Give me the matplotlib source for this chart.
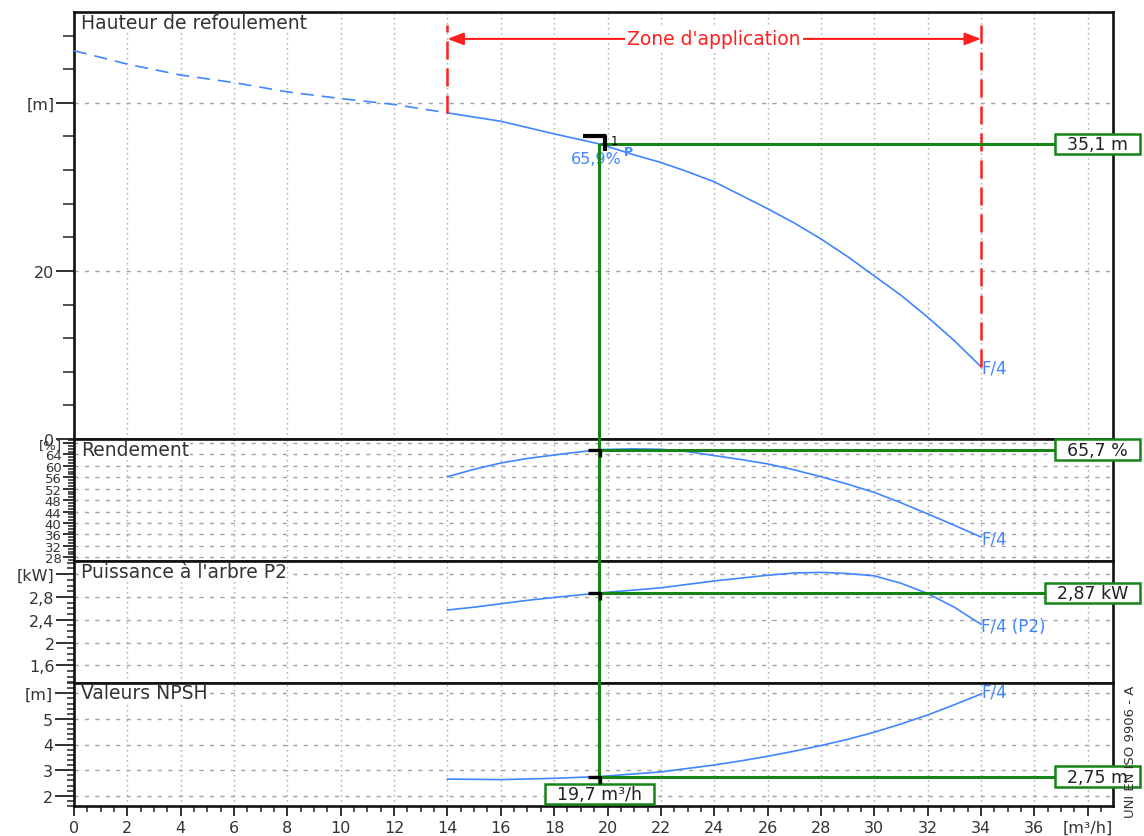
import matplotlib
matplotlib.use("Agg")
import matplotlib.pyplot as plt
from matplotlib.lines import Line2D
from matplotlib.markers import MarkerStyle
from matplotlib.patches import ConnectionPatch
from matplotlib.path import Path
from matplotlib.ticker import FixedLocator, FixedFormatter, MultipleLocator
from matplotlib.transforms import blended_transform_factory, offset_copy

plt.rcParams['font.family'] = ['DejaVu Sans']

# ---------------------------------------------------------------- data
# pump characteristic outside the application range (dashed)
q_extrap = [0, 2, 4, 6, 8, 10, 12, 14]
head_extrap = [46.2, 44.6, 43.3, 42.4, 41.3, 40.5, 39.8, 38.8]

# delivery head [m]
q_head = [14, 16, 18, 19.7, 21, 22, 23, 24, 25, 26, 27, 28, 29, 30, 31, 32, 33, 34]
head = [38.8, 37.8, 36.3, 35.1, 33.8, 32.9, 31.8, 30.6, 29.0, 27.4, 25.7, 23.8,
        21.7, 19.4, 17.1, 14.5, 11.7, 8.6]

# efficiency [%]
q_eff = [14, 15, 16, 17, 18, 19.7, 21, 22, 23, 24, 25, 26, 27, 28, 29, 30, 31, 32, 33, 34]
efficiency = [56.2, 58.8, 61.0, 62.6, 63.8, 65.7, 65.95, 65.8, 65.0, 63.6, 62.2, 60.7,
              58.6, 56.2, 53.6, 50.7, 47.1, 43.2, 39.2, 35.1]

# shaft power P2 [kW]
q_pow = [14, 15, 16, 17, 18, 19.7, 21, 22, 23, 24, 25, 26, 27, 28, 29, 30, 31, 32, 33, 34]
power = [2.57, 2.62, 2.68, 2.74, 2.79, 2.87, 2.92, 2.96, 3.02, 3.08, 3.13, 3.18, 3.22,
         3.23, 3.21, 3.17, 3.04, 2.86, 2.62, 2.32]

# NPSH [m]
q_npsh = [14, 16, 18, 19.7, 22, 24, 25, 26, 27, 28, 29, 30, 31, 32, 33, 34]
npsh = [2.65, 2.63, 2.68, 2.75, 2.93, 3.20, 3.36, 3.54, 3.74, 3.96, 4.20, 4.48, 4.80,
        5.15, 5.55, 5.97]

# duty point
q_op = 19.7
op_head, op_eff, op_power, op_npsh = 35.1, 65.7, 2.87, 2.75
op_labels = ["35,1 m", "65,7 %", "2,87 kW", "2,75 m"]
q_label = "19,7 m³/h"
best_eff_label = "65,9%"
zone_q = [14, 34]
zone_label = "Zone d'application"

# axes ticks and labels
x_ticks = list(range(0, 40, 2))
x_labels = [str(v) for v in range(0, 38, 2)] + ["[m³/h]"]
head_ticks, head_labels = [0, 20, 40], ["0", "20", "[m]"]
eff_ticks = list(range(28, 69, 4))
eff_labels = [str(v) for v in range(28, 68, 4)] + ["[%]"]
pow_ticks, pow_labels = [1.6, 2.0, 2.4, 2.8, 3.2], ["1,6", "2", "2,4", "2,8", "[kW]"]
npsh_ticks, npsh_labels = [2, 3, 4, 5, 6], ["2", "3", "4", "5", "[m]"]

titles = ["Hauteur de refoulement", "Rendement", "Puissance à l'arbre P2", "Valeurs NPSH"]
curve_tags = ["F/4", "F/4", "F/4 (P2)", "F/4"]

# --------------------------------------------------------------- style
BLUE = "#3f86ff"
GREEN = "#178417"
RED = "#ff1f1f"
GRID = "#a3a3a3"
TXT = "#333333"
XMAX = 38.95

W, H = 1144, 837
fig = plt.figure(figsize=(W / 100, H / 100), dpi=100)
left_px, right_px = 74, 1113


def panel(top, bottom):
    return fig.add_axes([left_px / W, 1 - bottom / H, (right_px - left_px) / W, (bottom - top) / H])


ax_h = panel(13, 440)
ax_e = panel(440, 562)
ax_p = panel(562, 684)
ax_n = panel(684, 807)
axes = [ax_h, ax_e, ax_p, ax_n]


def wide_box(x0, y0, width, height, mutation_size, padx=0.7, pady=0.08):
    """Rectangular label frame with more room left/right than above/below."""
    px, py = padx * mutation_size, pady * mutation_size
    x0, y0 = x0 - px, y0 - py
    x1, y1 = x0 + width + 2 * px, y0 + height + 2 * py
    return Path([(x0, y0), (x1, y0), (x1, y1), (x0, y1), (x0, y0)], closed=True)


def setup(ax, ylim, ticks, labels, minor, major_len, minor_len, title, labelsize=11.5):
    ax.set_xlim(0, XMAX)
    ax.set_ylim(*ylim)
    ax.xaxis.set_major_locator(FixedLocator(x_ticks))
    ax.xaxis.set_minor_locator(MultipleLocator(0.5))
    ax.yaxis.set_major_locator(FixedLocator(ticks))
    ax.yaxis.set_major_formatter(FixedFormatter(labels))
    ax.yaxis.set_minor_locator(MultipleLocator(minor))
    ax.tick_params(axis="y", which="major", direction="out", length=major_len, width=1.3,
                   pad=1, labelsize=labelsize, labelcolor=TXT, color="#222222")
    ax.tick_params(axis="y", which="minor", direction="out", length=minor_len, width=1.1,
                   color="#222222")
    ax.tick_params(axis="x", which="both", length=0, labelbottom=False)
    for s in ax.spines.values():
        s.set_linewidth(1.9)
        s.set_color("#111111")
    ax.grid(True, axis="x", which="major", color=GRID, lw=1.0, ls=(0, (1, 2.6)))
    ax.grid(True, axis="y", which="major", color=GRID, lw=1.0, ls=(0, (3, 4.5)))
    ax.set_axisbelow(True)
    ax.annotate(title, xy=(0, 1), xycoords="axes fraction", xytext=(7, -10),
                textcoords="offset pixels", ha="left", va="center", fontsize=13.5,
                color=TXT, bbox=dict(fc="white", ec="none", pad=0.3), zorder=2.4)


setup(ax_h, (0, 50.8), head_ticks, head_labels, 4, 13, 8, titles[0])
setup(ax_e, (26.7, 69.4), eff_ticks, eff_labels, 1, 8, 4.3, titles[1], labelsize=9.5)
setup(ax_p, (1.29, 3.43), pow_ticks, pow_labels, 0.1, 13, 5, titles[2])
setup(ax_n, (1.6, 6.4), npsh_ticks, npsh_labels, 0.2, 14, 5, titles[3])

ax_n.xaxis.set_major_formatter(FixedFormatter(x_labels))
ax_n.tick_params(axis="x", which="major", direction="out", length=7, width=1.3, pad=3,
                 labelbottom=True, labelsize=11.5, labelcolor=TXT, color="#222222")
ax_n.tick_params(axis="x", which="minor", direction="out", length=4.5, width=1.1,
                 color="#222222")

# ------------------------------------------------------------- curves
ax_h.plot(q_extrap, head_extrap, color=BLUE, lw=1.2, ls=(0, (7.8, 4.8)), zorder=4)
series = [(ax_h, q_head, head), (ax_e, q_eff, efficiency),
          (ax_p, q_pow, power), (ax_n, q_npsh, npsh)]
tag_offsets = [(0, -1), (0, -1), (0, -2), (0, 3)]
for (ax, xs, ys), tag, off in zip(series, curve_tags, tag_offsets):
    ax.plot(xs, ys, color=BLUE, lw=1.2, zorder=4, solid_joinstyle="round")
    ax.annotate(tag, (xs[-1], ys[-1]), xytext=off, textcoords="offset pixels",
                ha="left", va="center", fontsize=12, color=BLUE, zorder=6)

# ----------------------------------------------------- application zone
zone_top, zone_arrow = 49.2, 47.6
zone_heads = [head[q_head.index(zone_q[0])], head[q_head.index(zone_q[1])]]
for zq, zh in zip(zone_q, zone_heads):
    ax_h.plot([zq, zq], [zh, zone_top], color=RED, lw=1.8, ls=(0, (7.2, 3.6)), zorder=5)
ax_h.annotate("", xy=(zone_q[0], zone_arrow), xytext=(zone_q[1], zone_arrow),
              arrowprops=dict(arrowstyle="<|-|>,head_length=0.65,head_width=0.25",
                              color=RED, lw=1.5, mutation_scale=15,
                              shrinkA=0, shrinkB=0), zorder=5)
ax_h.text(sum(zone_q) / 2, zone_arrow, zone_label, ha="center", va="center",
          fontsize=13.5, color=RED, zorder=6,
          bbox=dict(boxstyle="square,pad=0.12", fc="white", ec="none"))

# ----------------------------------------------------------- duty point
op_values = [op_head, op_eff, op_power, op_npsh]
for ax, val, lab in zip(axes, op_values, op_labels):
    ax.plot([q_op, XMAX], [val, val], color=GREEN, lw=2.2, zorder=5,
            solid_capstyle="butt")
    tr = blended_transform_factory(ax.transAxes, ax.transData)
    ax.text((1128 - left_px) / (right_px - left_px), val, lab, transform=tr,
            ha="right", va="center", fontsize=12.5, color="#222222", clip_on=False,
            zorder=8, bbox=dict(boxstyle=wide_box, fc="white", ec=GREEN, lw=1.8))

# vertical duty line through all panels
vline = ConnectionPatch((q_op, op_head), (q_op, ax_n.get_ylim()[0]),
                        coordsA=ax_h.transData, coordsB=ax_n.transData,
                        color=GREEN, lw=2.2, zorder=2, capstyle="butt")
fig.add_artist(vline)

# flow label box at the bottom of the NPSH panel
fig.text(q_op, ax_n.get_ylim()[0], q_label,
         transform=offset_copy(ax_n.transData, fig=fig, x=0, y=3, units="dots"),
         ha="center", va="bottom", fontsize=12.5, color="#222222", zorder=3,
         bbox=dict(boxstyle=wide_box, fc="white", ec=GREEN, lw=1.8))

# black corner marks at the duty point
small_mark = MarkerStyle(Path([(-12, 0), (0, 0), (0, -7)],
                              [Path.MOVETO, Path.LINETO, Path.LINETO]),
                         fillstyle="none", joinstyle="miter", capstyle="butt")
head_mark = MarkerStyle(Path([(-17, 8), (5, 8), (5, -7)],
                             [Path.MOVETO, Path.LINETO, Path.LINETO]),
                        fillstyle="none", joinstyle="miter", capstyle="butt")
fig.add_artist(Line2D([q_op], [op_head], transform=ax_h.transData, marker=head_mark,
                      markersize=24.5, markeredgewidth=3, color="black", ls="none",
                      zorder=4))
for ax, val in zip(axes[1:], op_values[1:]):
    fig.add_artist(Line2D([q_op], [val], transform=ax.transData, marker=small_mark,
                          markersize=17.3, markeredgewidth=2.4, color="black",
                          ls="none", zorder=4))

ax_h.annotate("1", (q_op, op_head), xytext=(15, 3), textcoords="offset pixels",
              ha="center", va="center", fontsize=8.5, color="black", zorder=6)
ax_h.annotate("P", (q_op, op_head), xytext=(29, -8), textcoords="offset pixels",
              ha="center", va="center", fontsize=9, fontweight="bold", color=BLUE, zorder=6)
ax_h.annotate(best_eff_label, (q_op, op_head), xytext=(-3, -15), textcoords="offset pixels",
              ha="center", va="center", fontsize=11.5, color=BLUE, zorder=4)

# standard reference on the right edge
fig.text(1130 / W, 1 - 752 / H, "UNI EN ISO 9906 - A", rotation=90, ha="center",
         va="center", fontsize=9.5, color=TXT, zorder=5)

fig.savefig("out.png", dpi=100, facecolor="white")
